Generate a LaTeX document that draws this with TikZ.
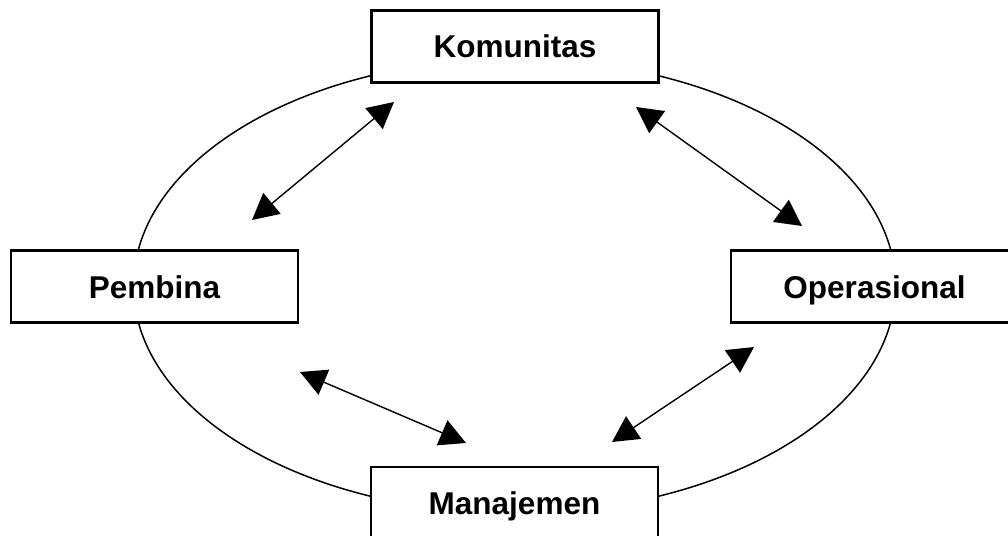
\documentclass[tikz,border=0pt]{standalone}
\usepackage{fontspec}
\setmainfont{Liberation Sans}
\usetikzlibrary{arrows.meta}
\tikzset{
  box/.style={draw=black, line width=2.2pt, fill=white, minimum width=287pt, minimum height=72pt, inner sep=0pt, text height=23pt, text depth=0pt, font=\bfseries\fontsize{31.5}{36}\selectfont},
  link/.style={line width=1.4pt, {Triangle[length=26pt,width=27pt]}-{Triangle[length=26pt,width=27pt]}}
}
\begin{document}
\begin{tikzpicture}[x=1pt,y=-1pt]
\useasboundingbox (0,0) rectangle (1008,535);
\clip (0,0) rectangle (1008,535);
\draw[line width=1.5pt] (514.5,286) ellipse [x radius=381, y radius=227];
\node[box] (kom) at (515,46.5) {Komunitas};
\node[box] (pem) at (154.5,286.5) {Pembina};
\node[box] (ops) at (874.5,286.5) {Operasional};
\node[box] (man) at (514.5,503) {Manajemen};
\coordinate (a1) at (252,220);
\coordinate (a2) at (394,102);
\coordinate (b1) at (636,107);
\coordinate (b2) at (802,226);
\coordinate (c1) at (300,372);
\coordinate (c2) at (466,443);
\coordinate (d1) at (754,347);
\coordinate (d2) at (612,442);
\draw[link] (a1) -- (a2);
\draw[link] (b1) -- (b2);
\draw[link] (c1) -- (c2);
\draw[link] (d1) -- (d2);
\end{tikzpicture}
\end{document}
